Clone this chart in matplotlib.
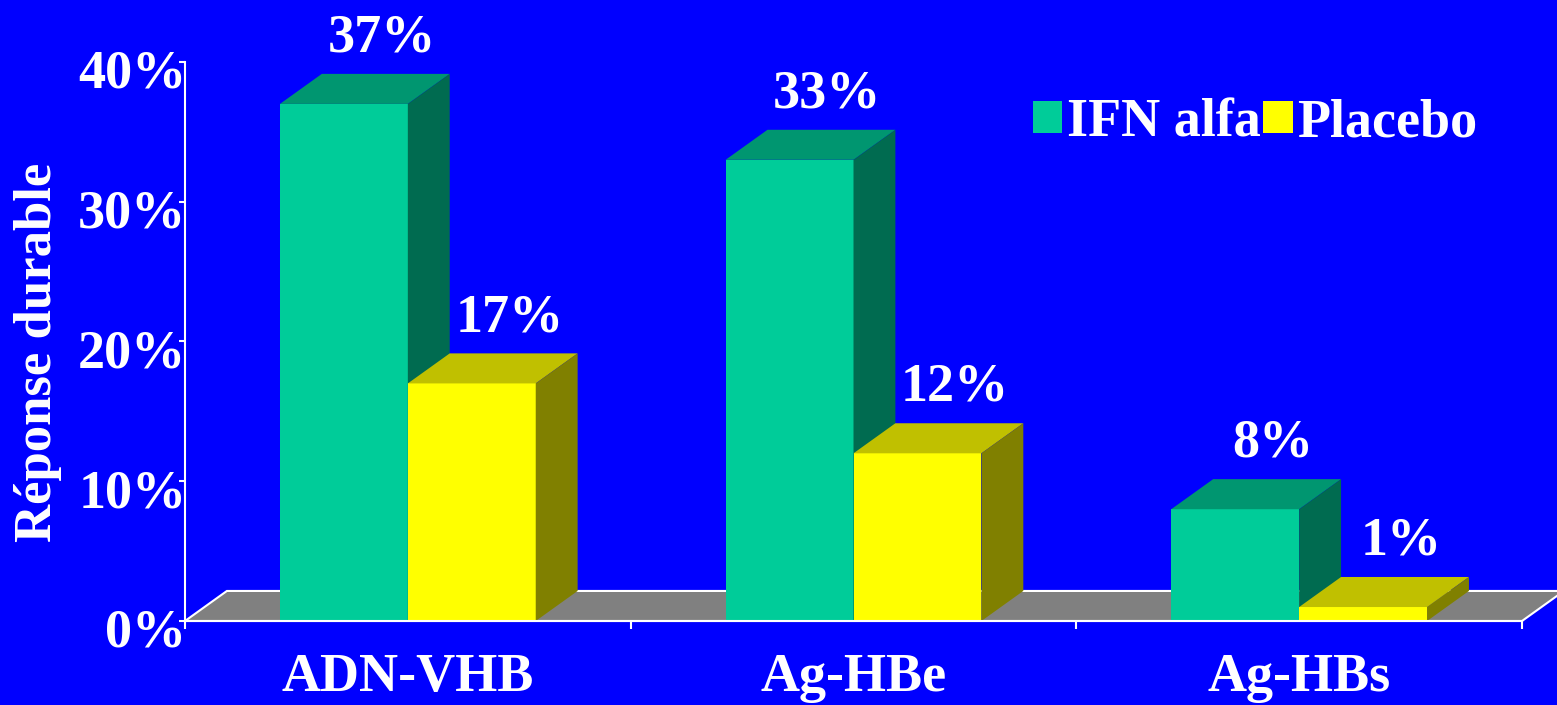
import numpy as np
import matplotlib
matplotlib.use('Agg')
import matplotlib.pyplot as plt
import matplotlib.transforms as mtransforms
from matplotlib.patches import Polygon, Patch

plt.rcParams['font.family'] = ['Liberation Serif', 'DejaVu Serif']
plt.rcParams['font.weight'] = 'bold'

# Data: durable response rates per marker
categories = ['ADN-VHB', 'Ag-HBe', 'Ag-HBs']
ifn_alfa = [37, 33, 8]
placebo = [17, 12, 1]
series_names = ['IFN alfa', 'Placebo']
yticks = [0, 10, 20, 30, 40]

BG = '#0000FF'
# front, top, side shades for each series
TEAL = ('#00CC99', '#009670', '#006B50')
YELLOW = ('#FFFF00', '#C0C000', '#808000')

bar_w = 0.287
dx, dy = 0.094, 2.15  # fake 3D depth offset in data units


def draw_bar(ax, x0, h, colors):
    """Draws a pseudo-3D bar: front face, top face and right side face."""
    front, top, side = colors
    ax.add_patch(Polygon([(x0, 0), (x0 + bar_w, 0), (x0 + bar_w, h), (x0, h)],
                         closed=True, facecolor=front, edgecolor='none', clip_on=False, zorder=3))
    ax.add_patch(Polygon([(x0, h), (x0 + bar_w, h), (x0 + bar_w + dx, h + dy), (x0 + dx, h + dy)],
                         closed=True, facecolor=top, edgecolor='none', clip_on=False, zorder=3))
    ax.add_patch(Polygon([(x0 + bar_w, 0), (x0 + bar_w + dx, dy), (x0 + bar_w + dx, h + dy), (x0 + bar_w, h)],
                         closed=True, facecolor=side, edgecolor='none', clip_on=False, zorder=3))


fig = plt.figure(figsize=(15.57, 7.05), dpi=100, facecolor=BG)
ax = fig.add_axes([185 / 1557, 84 / 705, 1337 / 1557, 559 / 705])
ax.set_facecolor(BG)
ax.set_xlim(-0.5, 2.5)
ax.set_ylim(0, 40)

# Floor of the chart
floor = Polygon([(-0.5, 0), (-0.5 + dx, dy), (2.5 + dx, dy), (2.5, 0)], closed=True,
                facecolor='#808080', edgecolor='white', linewidth=1.5, clip_on=False, zorder=2)
ax.add_patch(floor)

x = np.arange(len(categories))
for i in range(len(categories)):
    draw_bar(ax, x[i] - bar_w, ifn_alfa[i], TEAL)
    draw_bar(ax, x[i], placebo[i], YELLOW)

# Value labels above each bar
for i in range(len(categories)):
    for x0, v in [(x[i] - bar_w, ifn_alfa[i]), (x[i], placebo[i])]:
        ax.text(x0 + bar_w / 2 + dx * 0.9, v + dy + 1.6, f'{v}%', ha='center', va='baseline',
                color='white', fontsize=39, fontweight='bold', zorder=5, clip_on=False)

# Axes styling
for s in ['top', 'right']:
    ax.spines[s].set_visible(False)
for s in ['left', 'bottom']:
    ax.spines[s].set_color('white')
    ax.spines[s].set_linewidth(1.5)
    ax.spines[s].set_zorder(4)

ax.set_yticks(yticks)
ax.set_yticklabels([f'{t}%' for t in yticks])
ax.tick_params(axis='y', colors='white', length=4, width=1.5, direction='out', pad=-5,
               labelsize=39)
# y tick labels sit slightly below their ticks
offset = mtransforms.ScaledTranslation(0, -5 / 72, fig.dpi_scale_trans)
for lbl in ax.get_yticklabels():
    lbl.set_transform(lbl.get_transform() + offset)

ax.set_xticks(x)
ax.set_xticklabels(categories)
ax.set_xticks(np.arange(-0.5, 3, 1), minor=True)
ax.tick_params(axis='x', which='major', length=0, pad=23, colors='white', labelsize=39)
ax.tick_params(axis='x', which='minor', length=6, width=1.5, direction='out', colors='white')

ax.set_ylabel('Réponse durable', color='white', fontsize=38, fontweight='bold', va='center')
ax.yaxis.set_label_coords(-0.11, 0.48)

handles = [Patch(facecolor=TEAL[0]), Patch(facecolor=YELLOW[0])]
leg = ax.legend(handles, series_names, loc='upper left', bbox_to_anchor=(0.634, 0.935), ncol=2,
                frameon=False, fontsize=39, handlelength=0.55, handleheight=0.55,
                handletextpad=0.08, columnspacing=0.05, borderaxespad=0, borderpad=0,
                labelcolor='white')

fig.savefig('out.png', dpi=100, facecolor=BG)
